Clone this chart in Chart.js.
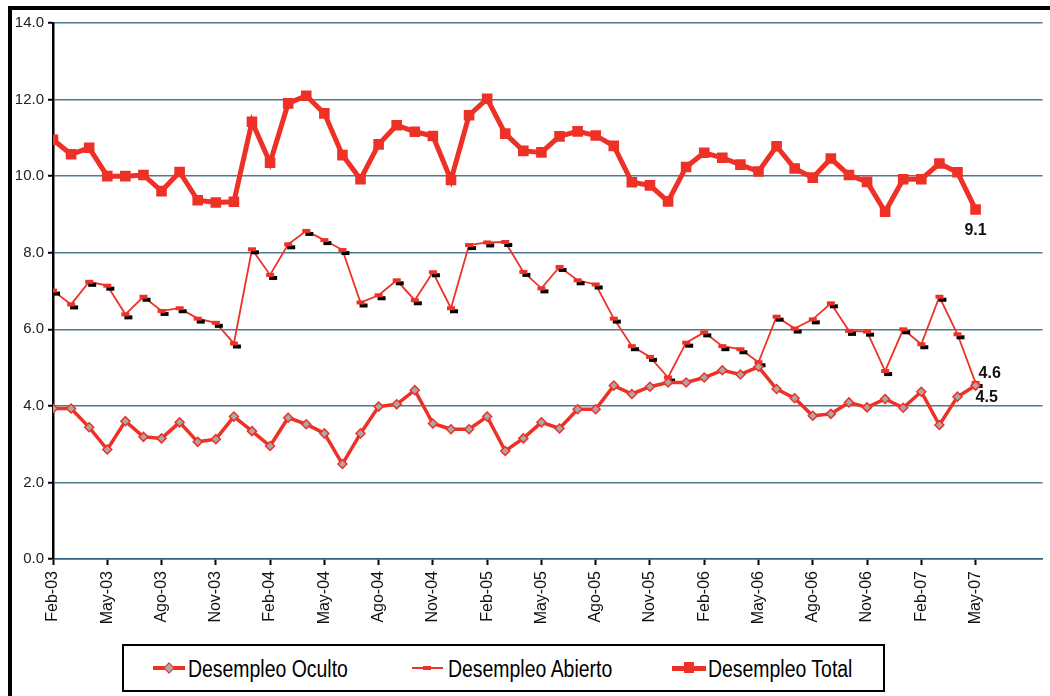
<!DOCTYPE html>
<html lang="es">
<head>
  <meta charset="UTF-8">
  <title>Desempleo</title>
  <script src="https://cdn.jsdelivr.net/npm/chart.js"></script>
  <style>
    body {
      margin: 0;
      padding: 0;
      background: #fff;
      width: 1050px;
      height: 696px;
      overflow: hidden;
      position: relative;
      font-family: 'Liberation Sans Narrow', 'Arial Narrow', 'Liberation Sans', sans-serif;
    }
    #chart {
      position: absolute;
      left: 0;
      top: 0;
    }
    .frame-top {
      position: absolute;
      left: 8px;
      top: 6px;
      width: 1042px;
      height: 4px;
      background: #000;
    }
    .frame-left {
      position: absolute;
      left: 8px;
      top: 6px;
      width: 4px;
      height: 690px;
      background: #000;
    }
    #legend {
      position: absolute;
      left: 122px;
      top: 644px;
      width: 759px;
      height: 44px;
      border: 2px solid #000;
      background: #fff;
    }
    .item {
      position: absolute;
      top: 1px;
      height: 44px;
      line-height: 44px;
      font-family: 'Liberation Sans', Arial, sans-serif;
      font-size: 23px;
      color: #000;
      white-space: nowrap;
      transform: scaleX(0.845);
      transform-origin: left center;
    }
    .sample {
      position: absolute;
      top: 22px;
      background: #ee3126;
    }
    .mark {
      position: absolute;
    }
  </style>
</head>
<body>
  <canvas id="chart" width="1050" height="696"></canvas>
  <div class="frame-top"></div>
  <div class="frame-left"></div>

  <div id="legend">
    <div class="sample" style="left:29px;width:32px;height:4px;margin-top:-2px;"></div>
    <div class="mark" style="left:41px;top:18px;width:6px;height:6px;background:#aaa;border:1.5px solid #ee3126;transform:rotate(45deg);"></div>
    <div class="item" style="left:64px;">Desempleo Oculto</div>

    <div class="sample" style="left:288px;width:31px;height:2px;margin-top:-1px;"></div>
    <div class="mark" style="left:299px;top:20px;width:8px;height:4px;background:#ee3126;"></div>
    <div class="item" style="left:324px;">Desempleo Abierto</div>

    <div class="sample" style="left:548px;width:34px;height:5px;margin-top:-2px;"></div>
    <div class="mark" style="left:560px;top:16px;width:10px;height:11px;background:#ee3126;"></div>
    <div class="item" style="left:584px;">Desempleo Total</div>
  </div>

  <script>
    const months = [
      'Feb-03','Mar-03','Abr-03','May-03','Jun-03','Jul-03','Ago-03','Sep-03','Oct-03','Nov-03','Dic-03',
      'Ene-04','Feb-04','Mar-04','Abr-04','May-04','Jun-04','Jul-04','Ago-04','Sep-04','Oct-04','Nov-04','Dic-04',
      'Ene-05','Feb-05','Mar-05','Abr-05','May-05','Jun-05','Jul-05','Ago-05','Sep-05','Oct-05','Nov-05','Dic-05',
      'Ene-06','Feb-06','Mar-06','Abr-06','May-06','Jun-06','Jul-06','Ago-06','Sep-06','Oct-06','Nov-06','Dic-06',
      'Ene-07','Feb-07','Mar-07','Abr-07','May-07'
    ];

    const oculto = [
      3.93, 3.93, 3.44, 2.86, 3.60, 3.19, 3.15, 3.57, 3.06, 3.13,
      3.72, 3.34, 2.95, 3.69, 3.52, 3.28, 2.48, 3.28, 3.98, 4.04,
      4.41, 3.54, 3.39, 3.39, 3.72, 2.82, 3.15, 3.57, 3.41, 3.91,
      3.91, 4.53, 4.31, 4.50, 4.61, 4.61, 4.74, 4.93, 4.82, 5.02,
      4.44, 4.20, 3.74, 3.79, 4.09, 3.96, 4.18, 3.95, 4.37, 3.50,
      4.24, 4.53
    ];

    const abierto = [
      7.01, 6.65, 7.24, 7.14, 6.39, 6.85, 6.48, 6.55, 6.28, 6.17,
      5.63, 8.09, 7.42, 8.22, 8.57, 8.33, 8.07, 6.70, 6.89, 7.28,
      6.76, 7.49, 6.55, 8.20, 8.27, 8.28, 7.50, 7.07, 7.63, 7.28,
      7.17, 6.28, 5.56, 5.28, 4.74, 5.65, 5.92, 5.56, 5.48, 5.14,
      6.33, 6.02, 6.26, 6.68, 5.96, 5.94, 4.91, 6.00, 5.61, 6.85,
      5.87, 4.60
    ];

    const total = [
      10.95, 10.57, 10.74, 10.00, 10.00, 10.03, 9.61, 10.11, 9.37, 9.31,
      9.33, 11.42, 10.35, 11.90, 12.10, 11.64, 10.55, 9.92, 10.83, 11.33,
      11.16, 11.05, 9.90, 11.59, 12.02, 11.11, 10.66, 10.62, 11.04, 11.17,
      11.06, 10.79, 9.84, 9.76, 9.34, 10.24, 10.61, 10.48, 10.30, 10.12,
      10.78, 10.20, 9.96, 10.46, 10.03, 9.85, 9.07, 9.92, 9.92, 10.33,
      10.10, 9.13
    ];

    // only every third month gets a tick + label
    const tickStep = 3;
    const yTicks = [0, 2, 4, 6, 8, 10, 12, 14];

    const RED = '#ee3126';
    const narrow = "'Liberation Sans Narrow', 'Arial Narrow', 'Liberation Sans', sans-serif";

    // red dash with a black shadow, used as the marker for "Abierto"
    function dashMarker() {
      const c = document.createElement('canvas');
      c.width = 18;
      c.height = 12;
      const ctx = c.getContext('2d');
      ctx.fillStyle = '#000';
      ctx.fillRect(8, 7, 8, 4);
      ctx.fillStyle = RED;
      ctx.fillRect(5, 4, 8, 4);
      return c;
    }

    const toXY = arr => arr.map((v, i) => ({ x: i, y: v }));

    // last-value labels (9.1, 4.6, 4.5)
    const endLabels = {
      id: 'endLabels',
      afterDatasetsDraw(chart) {
        const ctx = chart.ctx;
        const spots = [
          { ds: 2, dx: 0, dy: 21, align: 'center' },
          { ds: 1, dx: 3, dy: -9, align: 'left' },
          { ds: 0, dx: 0, dy: 12, align: 'left' }
        ];
        ctx.save();
        ctx.font = 'bold 16px ' + narrow;
        ctx.fillStyle = '#111';
        ctx.textBaseline = 'middle';
        spots.forEach(s => {
          const meta = chart.getDatasetMeta(s.ds);
          const pt = meta.data[meta.data.length - 1];
          const val = chart.data.datasets[s.ds].data[meta.data.length - 1].y;
          ctx.textAlign = s.align;
          ctx.fillText(val.toFixed(1), pt.x + s.dx, pt.y + s.dy);
        });
        ctx.restore();
      }
    };

    new Chart(document.getElementById('chart'), {
      type: 'line',
      data: {
        datasets: [
          {
            label: 'Desempleo Oculto',
            data: toXY(oculto),
            borderColor: RED,
            borderWidth: 3.5,
            pointStyle: 'rectRot',
            pointRadius: 4.5,
            pointBackgroundColor: '#a8a8a8',
            pointBorderColor: RED,
            pointBorderWidth: 1.5,
            tension: 0
          },
          {
            label: 'Desempleo Abierto',
            data: toXY(abierto),
            borderColor: RED,
            borderWidth: 1.8,
            pointStyle: dashMarker(),
            tension: 0
          },
          {
            label: 'Desempleo Total',
            data: toXY(total),
            borderColor: RED,
            borderWidth: 5,
            pointStyle: 'rect',
            pointRadius: 7.5,
            pointBackgroundColor: RED,
            pointBorderColor: RED,
            pointBorderWidth: 0,
            tension: 0
          }
        ]
      },
      options: {
        responsive: false,
        animation: false,
        devicePixelRatio: 1,
        layout: { padding: { left: 0, top: 23, right: 5, bottom: 0 } },
        plugins: {
          legend: { display: false },
          tooltip: { enabled: false }
        },
        scales: {
          x: {
            type: 'linear',
            min: 0,
            max: 54.7,
            afterBuildTicks(scale) {
              const t = [];
              for (let i = 0; i < months.length; i += tickStep) t.push({ value: i });
              scale.ticks = t;
            },
            afterFit(scale) { scale.height = 696 - 559; },
            ticks: {
              autoSkip: false,
              minRotation: 90,
              maxRotation: 90,
              padding: 6,
              color: '#111',
              font: { family: "'Liberation Sans', Arial, sans-serif", size: 16 },
              callback: v => months[v] || ''
            },
            grid: {
              drawOnChartArea: false,
              drawTicks: true,
              tickLength: 6,
              tickColor: '#000',
              tickWidth: 2
            },
            border: { display: true, color: '#2d5d7a', width: 1.5 }
          },
          y: {
            min: 0,
            max: 14,
            afterBuildTicks(scale) {
              scale.ticks = yTicks.map(v => ({ value: v }));
            },
            afterFit(scale) { scale.width = 53; },
            ticks: {
              padding: 4,
              color: '#222',
              font: { family: narrow, size: 15 },
              callback: v => Number(v).toFixed(1)
            },
            grid: {
              color: '#50788f',
              lineWidth: 1.5,
              drawTicks: true,
              tickLength: 5,
              tickColor: '#000',
              tickWidth: 2
            },
            border: { display: true, color: '#000', width: 2.5 }
          }
        }
      },
      plugins: [endLabels]
    });
  </script>
</body>
</html>
